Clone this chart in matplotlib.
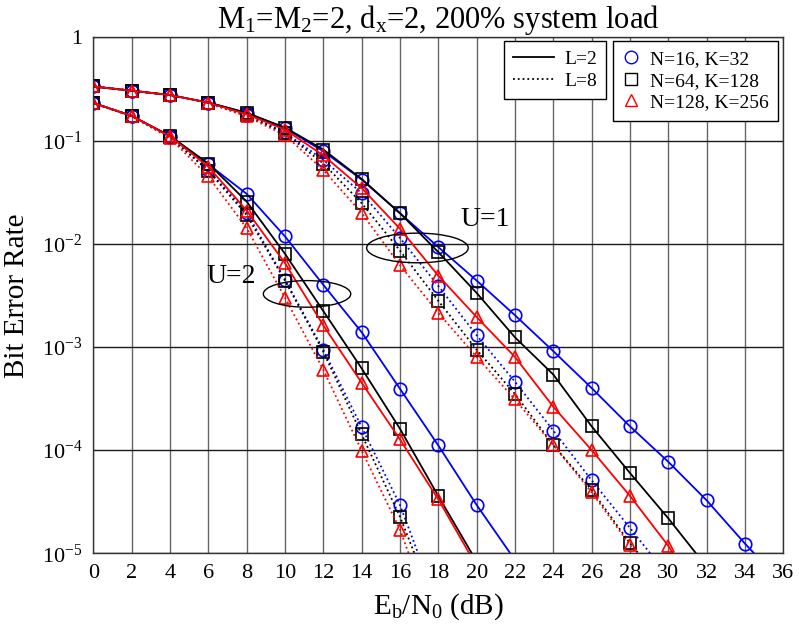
import numpy as np
import matplotlib
matplotlib.use("Agg")
import matplotlib.pyplot as plt
from matplotlib.lines import Line2D
from matplotlib.patches import Ellipse
from matplotlib.ticker import FixedLocator, FuncFormatter, NullLocator

plt.rcParams['font.family'] = ['Liberation Serif', 'DejaVu Serif']
plt.rcParams['mathtext.fontset'] = 'custom'
plt.rcParams['mathtext.rm'] = 'Liberation Serif'
plt.rcParams['mathtext.it'] = 'Liberation Serif:italic'
plt.rcParams['mathtext.bf'] = 'Liberation Serif:bold'

# Eb/N0 grid (dB); each curve uses the first len(ber) entries
ebn0 = np.arange(0, 37, 2)

# U=1, L=2 (solid)
ber_u1_l2_n16 = [0.335, 0.305, 0.277, 0.234, 0.186, 0.132, 0.079, 0.042, 0.0198, 0.0093,
                 0.0044, 0.00203, 0.00091, 0.0004, 0.00017, 7.7e-5, 3.26e-5, 1.24e-5, 5e-6]
ber_u1_l2_n64 = [0.335, 0.305, 0.277, 0.234, 0.186, 0.134, 0.082, 0.0425, 0.0198, 0.0083,
                 0.00334, 0.00124, 0.00054, 0.00017, 6.0e-5, 2.18e-5, 7.4e-6]
ber_u1_l2_n128 = [0.335, 0.305, 0.277, 0.233, 0.180, 0.128, 0.072, 0.0347, 0.014, 0.0049,
                  0.00195, 0.0008, 0.000263, 0.0001, 3.6e-5, 1.18e-5, 3e-6]
# U=1, L=8 (dotted)
ber_u1_l8_n16 = [0.335, 0.305, 0.277, 0.232, 0.178, 0.120, 0.065, 0.031, 0.0114, 0.0039,
                 0.0013, 0.00046, 0.000155, 5.1e-5, 1.76e-5, 6e-6]
ber_u1_l8_n64 = [0.335, 0.305, 0.277, 0.232, 0.176, 0.118, 0.060, 0.0248, 0.0086, 0.0028,
                 0.00094, 0.00035, 0.000112, 4.1e-5, 1.25e-5, 4.5e-6]
ber_u1_l8_n128 = [0.335, 0.305, 0.277, 0.231, 0.172, 0.113, 0.052, 0.0199, 0.0062, 0.00214,
                  0.0008, 0.00031, 0.000112, 3.9e-5, 1.2e-5, 4e-6]
# U=2, L=2 (solid)
ber_u2_l2_n16 = [0.232, 0.174, 0.111, 0.059, 0.0305, 0.0118, 0.004, 0.00139, 0.000393,
                 0.000111, 2.94e-5, 8.6e-6]
ber_u2_l2_n64 = [0.232, 0.174, 0.111, 0.060, 0.0257, 0.008, 0.00223, 0.00062, 0.000161,
                 3.59e-5, 8.3e-6]
ber_u2_l2_n128 = [0.232, 0.174, 0.110, 0.056, 0.021, 0.0065, 0.00162, 0.00045, 0.000127,
                  3.33e-5, 7.5e-6]
# U=2, L=8 (dotted)
ber_u2_l8_n16 = [0.232, 0.174, 0.108, 0.052, 0.0201, 0.0045, 0.00094, 0.000167, 2.94e-5, 3e-6]
ber_u2_l8_n64 = [0.232, 0.174, 0.108, 0.051, 0.019, 0.0044, 0.0009, 0.000142, 2.26e-5, 2.6e-6]
ber_u2_l8_n128 = [0.230, 0.172, 0.106, 0.045, 0.0142, 0.003, 0.0006, 9.9e-5, 1.7e-5, 1.6e-6]

config_labels = ['N=16, K=32', 'N=64, K=128', 'N=128, K=256']
path_labels = ['L=2', 'L=8']
x_ticks = list(range(0, 37, 2))
y_ticks = [1e-5, 1e-4, 1e-3, 1e-2, 1e-1, 1]

colors = ['blue', 'black', 'red']
markers = ['o', 's', '^']
styles = {'L=2': '-', 'L=8': ':'}

curves = [
    ('L=8', [ber_u1_l8_n16, ber_u1_l8_n64, ber_u1_l8_n128]),
    ('L=8', [ber_u2_l8_n16, ber_u2_l8_n64, ber_u2_l8_n128]),
    ('L=2', [ber_u1_l2_n16, ber_u1_l2_n64, ber_u1_l2_n128]),
    ('L=2', [ber_u2_l2_n16, ber_u2_l2_n64, ber_u2_l2_n128]),
]

fig = plt.figure(figsize=(7.99, 6.26), dpi=100)
ax = fig.add_axes([0.1168, 0.1161, 0.8636, 0.8240])

for plabel, group in curves:
    for ber, c, m in zip(group, colors, markers):
        ax.plot(ebn0[:len(ber)], ber, color=c, linestyle=styles[plabel], lw=1.3,
                marker=m, ms=9, mfc='none', mec=c, mew=1.2)

ax.set_yscale('log')
ax.set_xlim(0, 36)
ax.set_ylim(1e-5, 1)
ax.xaxis.set_major_locator(FixedLocator(x_ticks))
ax.yaxis.set_major_locator(FixedLocator(y_ticks))
ax.yaxis.set_minor_locator(NullLocator())


def decade_label(v, pos):
    e = int(round(np.log10(v)))
    return '1' if e == 0 else r'10$^{%d}$' % e


ax.yaxis.set_major_formatter(FuncFormatter(decade_label))
ax.tick_params(axis='both', which='major', labelsize=16, direction='in', length=0, pad=8)
ax.xaxis.grid(True, color='0.4', lw=1.0)
ax.yaxis.grid(True, color='0.1', lw=1.0)
for s in ax.spines.values():
    s.set_linewidth(1.0)
    s.set_color('0.2')

ax.set_title(r'M$_1$=M$_2$=2, d$_\mathrm{x}$=2, 200% system load', fontsize=22, pad=6)
ax.set_xlabel(r'E$_\mathrm{b}$/N$_0$ (dB)', fontsize=21, labelpad=6)
ax.set_ylabel('Bit Error Rate', fontsize=21, labelpad=8)

# Group annotations: ellipses given as centre (dB, BER), width (dB), height (decades)
to_axes = ax.transScale + ax.transLimits
xspan = 36.0
yspan = 5.0
for (cx, cy, w_db, h_dec) in [(11.15, 0.00327, 4.56, 0.258), (16.91, 0.00912, 5.3, 0.2875)]:
    fx, fy = to_axes.transform((cx, cy))
    ax.add_patch(Ellipse((fx, fy), w_db / xspan, h_dec / yspan, transform=ax.transAxes,
                         fill=False, ec='black', lw=1.0, zorder=5))
ax.text(20.43, 0.0171, 'U=1', fontsize=20, ha='center', va='center')
ax.text(7.17, 0.0048, 'U=2', fontsize=20, ha='center', va='center')

# Legends
h_lines = [Line2D([], [], color='black', ls=styles[p], lw=1.3) for p in path_labels]
leg1 = ax.legend(h_lines, path_labels, loc='upper right', bbox_to_anchor=(0.7437, 0.9935),
                 borderaxespad=0, fontsize=14, handlelength=2.1, handletextpad=0.5,
                 labelspacing=0.2, fancybox=False, edgecolor='black', framealpha=1,
                 borderpad=0.5)
leg1.get_frame().set_linewidth(1.0)
ax.add_artist(leg1)

h_marks = [Line2D([], [], color=c, ls='none', marker=m, ms=9, mfc='none', mew=1.0)
           for c, m in zip(colors, markers)]
leg2 = ax.legend(h_marks, config_labels, loc='upper right', bbox_to_anchor=(0.9923, 0.9935),
                 borderaxespad=0, fontsize=14, handlelength=0.9, handletextpad=0.5,
                 labelspacing=0.2, fancybox=False, edgecolor='black', framealpha=1,
                 borderpad=0.5)
leg2.get_frame().set_linewidth(1.0)

fig.savefig('out.png', dpi=100)
